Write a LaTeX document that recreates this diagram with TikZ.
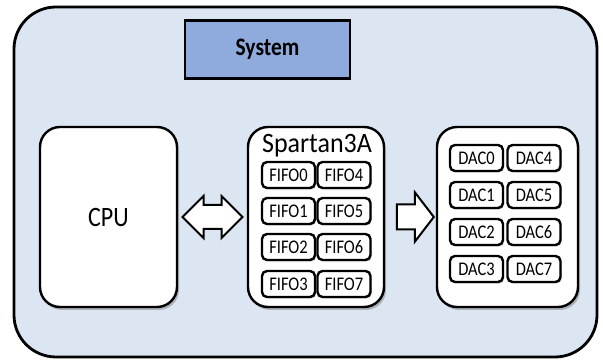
\documentclass[tikz,border=0pt]{standalone}
\usepackage{fontspec}
\usepackage{graphicx}
\setmainfont{Carlito}
\usetikzlibrary{shapes.arrows,shadows,calc}
\definecolor{bgblue}{RGB}{220,230,242}
\definecolor{sysblue}{RGB}{143,170,220}
\newcommand{\tallstretch}[1]{\scalebox{1}[1.17]{#1}}
\tikzset{
  box/.style={draw=black, line width=2.4pt, rounded corners=20pt, fill=white,
    drop shadow={shadow xshift=2pt, shadow yshift=-3pt, fill=black!50, opacity=0.5}},
  cell/.style={draw=black, line width=2.4pt, rounded corners=5pt, fill=white,
    minimum width=53pt, minimum height=26pt, inner sep=0pt, font=\fontsize{16.5}{16.5}\selectfont,
    drop shadow={shadow xshift=1pt, shadow yshift=-1.5pt, fill=black!50, opacity=0.5}},
  blockarrow/.style={draw=black, line width=2pt, fill=white, inner xsep=0pt}
}
\begin{document}
\begin{tikzpicture}[x=1pt,y=-1pt]
\useasboundingbox (0,0) rectangle (603,363);
\node[draw=black, line width=2.8pt, rounded corners=42pt, fill=bgblue, minimum width=583pt, minimum height=350pt, inner sep=0pt] (outer) at (305.5,182) {};
\node[draw=black, line width=2.4pt, fill=sysblue, minimum width=165pt, minimum height=58pt, inner sep=0pt, font=\bfseries\fontsize{21.5}{21.5}\selectfont] (sys) at (267.5,49.5) {\tallstretch{System}};
\node[box, minimum width=137pt, minimum height=180pt, inner sep=0pt, font=\fontsize{24}{24}\selectfont] (cpu) at (108.5,217) {\tallstretch{CPU}};
\node[box, minimum width=136pt, minimum height=180pt, inner sep=0pt] (fpga) at (316,217) {};
\node[font=\fontsize{26}{26}\selectfont, anchor=center, inner sep=0pt] (sptitle) at (317,146) {\scalebox{1}[1.08]{Spartan3A}};
\node[box, minimum width=141pt, minimum height=180pt, inner sep=0pt] (dacs) at (507.5,217) {};
\foreach \i/\y in {0/175,1/211,2/247,3/284}{
  \node[cell] (fifo\i) at (288.5,\y) {\tallstretch{FIFO\i}};
}
\foreach \i/\y in {4/175,5/211,6/247,7/284}{
  \node[cell] (fifo\i) at (344,\y) {\tallstretch{FIFO\i}};
}
\foreach \i/\y in {0/158,1/195,2/232,3/269}{
  \node[cell] (dac\i) at (476.5,\y) {\tallstretch{DAC\i}};
}
\foreach \i/\y in {4/158,5/195,6/232,7/269}{
  \node[cell] (dac\i) at (534,\y) {\tallstretch{DAC\i}};
}
\node[blockarrow, double arrow, inner ysep=11pt, double arrow head extend=9pt, minimum height=60pt] (darrow) at ($(cpu.east)!0.5!(fpga.west)$) {};
\node[blockarrow, single arrow, inner ysep=11.5pt, single arrow head extend=12pt, single arrow tip angle=105, minimum height=37pt] (rarrow) at ($(fpga.east)!0.5!(dacs.west)$) {};
\end{tikzpicture}
\end{document}
